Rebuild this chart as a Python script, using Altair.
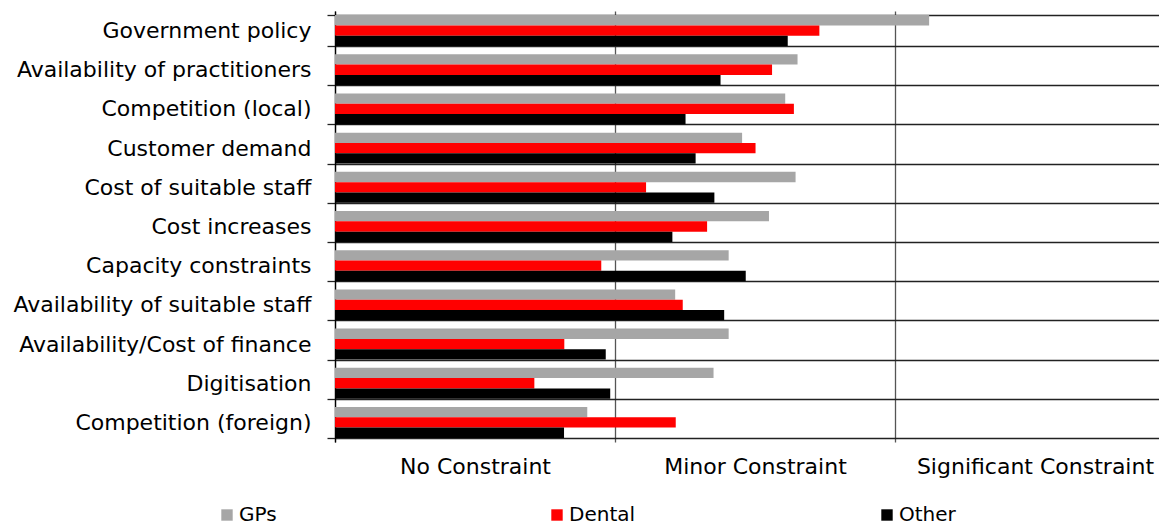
import altair as alt
import pandas as pd

categories = [
    "Government policy",
    "Availability of practitioners",
    "Competition (local)",
    "Customer demand",
    "Cost of suitable staff",
    "Cost increases",
    "Capacity constraints",
    "Availability of suitable staff",
    "Availability/Cost of finance",
    "Digitisation",
    "Competition (foreign)",
]
series = ["GPs", "Dental", "Other"]
gps = [2.122, 1.652, 1.608, 1.454, 1.645, 1.550, 1.406, 1.215, 1.406, 1.352, 0.901]
dental = [1.730, 1.561, 1.639, 1.502, 1.111, 1.329, 0.951, 1.242, 0.819, 0.712, 1.217]
other = [1.617, 1.377, 1.252, 1.288, 1.355, 1.205, 1.467, 1.390, 0.967, 0.983, 0.818]
tick_labels = ["No Constraint", "Minor Constraint", "Significant Constraint"]
colors = ["#A6A6A6", "#FF0000", "#000000"]

rows = []
for i, c in enumerate(categories):
    for s, vals in zip(series, [gps, dental, other]):
        rows.append({"category": c, "series": s, "value": vals[i]})
df = pd.DataFrame(rows)

FONT = "DejaVu Sans"
FS = 22

label_expr = (
    f"datum.value == 0 ? '{tick_labels[0]}' : "
    f"datum.value == 1 ? '{tick_labels[1]}' : '{tick_labels[2]}'"
)

chart = (
    alt.Chart(df)
    .mark_bar()
    .encode(
        x=alt.X(
            "value:Q",
            scale=alt.Scale(domain=[0, 2.943], nice=False, zero=True),
            axis=alt.Axis(
                values=[0, 1, 2],
                labelExpr=label_expr,
                labelOffset=140,
                labelAlign="center",
                labelPadding=14,
                labelFontSize=FS,
                labelFont=FONT,
                labelColor="#000000",
                labelOverlap=False,
                labelBound=False,
                labelFlush=False,
                labelLimit=400,
                ticks=False,
                domain=False,
                grid=True,
                gridColor="#555555",
                gridWidth=1.3,
                title=None,
            ),
        ),
        y=alt.Y(
            "category:N",
            sort=categories,
            scale=alt.Scale(paddingInner=0.21, paddingOuter=0.105),
            axis=alt.Axis(
                tickBand="extent",
                grid=True,
                gridColor="#222222",
                gridWidth=1.3,
                tickColor="#222222",
                tickSize=8,
                tickWidth=1.3,
                domain=True,
                domainColor="#000000",
                domainWidth=1.3,
                labelFontSize=FS,
                labelFont=FONT,
                labelColor="#000000",
                labelPadding=16,
                labelLimit=400,
                title=None,
            ),
        ),
        yOffset=alt.YOffset("series:N", sort=series),
        color=alt.Color(
            "series:N",
            sort=series,
            scale=alt.Scale(domain=series, range=colors),
            legend=alt.Legend(
                orient="none",
                legendX=-118,
                legendY=494,
                direction="horizontal",
                columns=3,
                gridAlign="all",
                columnPadding=241,
                symbolType="square",
                symbolSize=130,
                symbolStrokeWidth=0,
                symbolOffset=0,
                labelFontSize=20,
                labelFont=FONT,
                labelColor="#000000",
                labelOffset=2,
                title=None,
            ),
        ),
    )
    .properties(
        width=824,
        height=431,
        autosize=alt.AutoSizeParams(type="none"),
        padding={"left": 327, "top": 3, "right": 0, "bottom": 86},
    )
    .configure_view(stroke=None)
)

chart.save("out.html", embed_options={"renderer": "svg", "actions": False})
